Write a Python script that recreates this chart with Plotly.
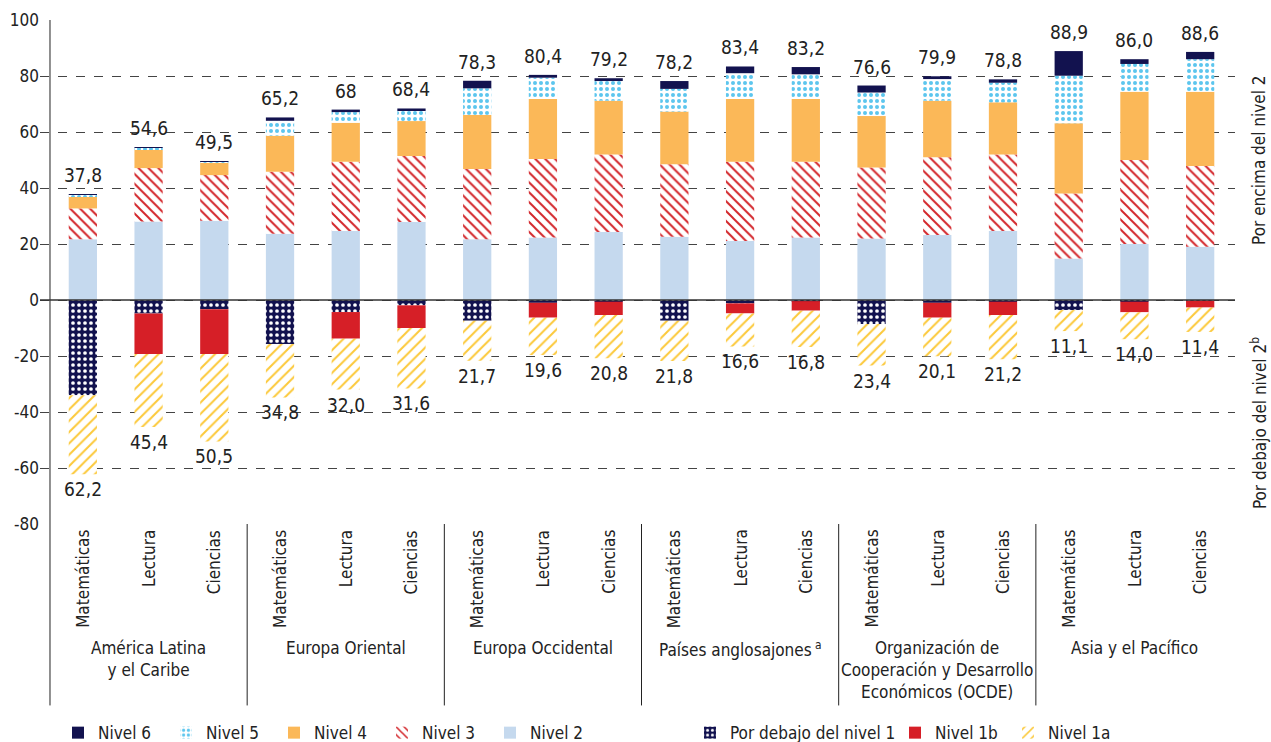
import plotly.graph_objects as go

# PISA performance distribution by region and subject (% of students)
groups = [
    "América Latina<br>y el Caribe",
    "Europa Oriental",
    "Europa Occidental",
    "Países anglosajones<sup> a</sup>",
    "Organización de<br>Cooperación y Desarrollo<br>Económicos (OCDE)",
    "Asia y el Pacífico",
]
subjects = ["Matemáticas", "Lectura", "Ciencias"]

# Levels at or above level 2 (stacked upward)
nivel2 = [21.7, 28.0, 28.3, 23.7, 24.6, 27.9, 21.7, 22.3, 24.3, 22.6, 21.1, 22.3, 22.0, 23.2, 24.6, 14.8, 20.0, 19.0]
nivel3 = [11.0, 19.1, 16.3, 22.1, 24.8, 23.5, 25.1, 28.1, 27.7, 25.9, 28.3, 27.1, 25.3, 27.8, 27.4, 23.2, 30.0, 28.9]
nivel4 = [4.2, 6.5, 4.5, 12.9, 13.9, 12.5, 19.3, 21.4, 19.2, 18.8, 22.4, 22.4, 18.4, 20.2, 18.6, 25.1, 24.4, 26.5]
nivel5 = [0.7, 0.7, 0.3, 5.3, 3.8, 3.8, 9.5, 7.6, 7.0, 8.1, 9.2, 8.8, 8.4, 7.7, 7.0, 17.0, 9.9, 11.6]
nivel6 = [0.2, 0.3, 0.1, 1.2, 0.9, 0.7, 2.7, 1.0, 1.0, 2.8, 2.4, 2.6, 2.5, 1.0, 1.2, 8.8, 1.7, 2.6]

# Levels below level 2 (stacked downward)
debajo1 = [34.0, 4.8, 3.3, 15.7, 4.3, 1.9, 7.4, 1.0, 0.6, 7.4, 1.2, 0.4, 8.6, 1.0, 0.6, 3.6, 0.6, 0.2]
nivel1b = [None, 14.5, 16.0, None, 9.5, 8.1, None, 5.3, 4.8, None, 3.6, 3.4, None, 5.3, 4.8, None, 3.8, 2.5]
nivel1a = [28.2, 26.1, 31.2, 19.1, 18.2, 21.6, 14.3, 13.3, 15.4, 14.4, 11.8, 13.0, 14.8, 13.8, 15.8, 7.5, 9.6, 8.7]

top_labels = ["37,8", "54,6", "49,5", "65,2", "68", "68,4", "78,3", "80,4", "79,2",
              "78,2", "83,4", "83,2", "76,6", "79,9", "78,8", "88,9", "86,0", "88,6"]
bottom_labels = ["62,2", "45,4", "50,5", "34,8", "32,0", "31,6", "21,7", "19,6", "20,8",
                 "21,8", "16,6", "16,8", "23,4", "20,1", "21,2", "11,1", "14,0", "11,4"]

y_ticks = [-80, -60, -40, -20, 0, 20, 40, 60, 80, 100]
y_tick_text = ["-80", "-60", "-40", "-20", "0", "20", "40", "60", "80", "100"]

FONT = "Liberation Sans Narrow, DejaVu Sans Condensed, Roboto, sans-serif"
TXT = "#222222"

n = len(nivel2)
xs = list(range(n))
neg = lambda v: [None if a is None else -a for a in v]

fig = go.Figure()

def add(name, vals, color, rank, legend, shape="", fg=None, bg=None, size=8, solidity=0.3):
    pattern = dict(shape=shape)
    if shape:
        pattern.update(fgcolor=fg, bgcolor=bg, fillmode="replace", size=size, solidity=solidity)
    fig.add_trace(go.Bar(
        x=xs, y=vals, name=name, width=0.43, legendrank=rank, legend=legend,
        marker=dict(color=color, line=dict(width=0), pattern=pattern),
        hoverinfo="skip",
    ))

add("Nivel 2", nivel2, "#c5d9ee", 5, "legend")
add("Nivel 3", nivel3, "#d3262b", 4, "legend", "\\", "#d3262b", "white", 7, 0.28)
add("Nivel 4", nivel4, "#fbb858", 3, "legend")
add("Nivel 5", nivel5, "#5cc6ee", 2, "legend", ".", "#5cc6ee", "white", 6, 0.35)
add("Nivel 6", nivel6, "#12124f", 1, "legend")
add("Por debajo del nivel 1", neg(debajo1), "#12124f", 6, "legend2", ".", "white", "#12124f", 6, 0.3)
add("Nivel 1b", neg(nivel1b), "#d61f27", 7, "legend3")
add("Nivel 1a", neg(nivel1a), "#fcc93a", 8, "legend4", "/", "#fcc93a", "white", 8, 0.25)

annotations = []
for i in range(n):
    up = nivel2[i] + nivel3[i] + nivel4[i] + nivel5[i] + nivel6[i]
    down = debajo1[i] + (nivel1b[i] or 0) + nivel1a[i]
    annotations.append(dict(x=i, y=up, text=top_labels[i], showarrow=False,
                            yanchor="bottom", yshift=6,
                            font=dict(size=19, color=TXT, family=FONT)))
    annotations.append(dict(x=i, y=-down, text=bottom_labels[i], showarrow=False,
                            yanchor="top", yshift=-2,
                            font=dict(size=19, color=TXT, family=FONT)))
    annotations.append(dict(x=i, y=-80, text=subjects[i % 3], showarrow=False,
                            textangle=-90, yanchor="top", yshift=-4,
                            font=dict(size=17, color=TXT, family=FONT)))

for g, name in enumerate(groups):
    annotations.append(dict(x=3 * g + 1, y=-0.222, yref="paper", text=name, showarrow=False,
                            yanchor="top", font=dict(size=17, color=TXT, family=FONT)))

annotations.append(dict(x=1.02, xref="paper", y=50, text="Por encima del nivel 2", showarrow=False,
                        textangle=-90, xanchor="center",
                        font=dict(size=17, color=TXT, family=FONT)))
annotations.append(dict(x=1.02, xref="paper", y=-44, text="Por debajo del nivel 2<sup>b</sup>",
                        showarrow=False, textangle=-90, xanchor="center",
                        font=dict(size=17, color=TXT, family=FONT)))

shapes = []
# axis line and group separators running down through the category labels
for g in range(len(groups)):
    x0 = 3 * g - 0.5
    y_top = 100 if g == 0 else -80
    shapes.append(dict(type="line", xref="x", yref="y", x0=x0, x1=x0, y0=y_top, y1=-80,
                       line=dict(color="#222222", width=1)))
    shapes.append(dict(type="line", xref="x", yref="paper", x0=x0, x1=x0, y0=0, y1=-0.36,
                       line=dict(color="#222222", width=1)))
# zero baseline
shapes.append(dict(type="line", xref="paper", yref="y", x0=0, x1=1, y0=0, y1=0,
                   line=dict(color="#333333", width=1.5)))

legend_font = dict(size=17, color=TXT, family=FONT)
legend_common = dict(orientation="h", xref="container", yref="container", y=0.012,
                     xanchor="left", yanchor="middle", font=legend_font, itemwidth=30,
                     bgcolor="rgba(0,0,0,0)")

fig.update_layout(
    barmode="relative",
    width=1271, height=742,
    margin=dict(l=40, r=36, t=20, b=218, autoexpand=False),
    paper_bgcolor="white", plot_bgcolor="white",
    font=dict(family=FONT, color=TXT, size=17),
    xaxis=dict(range=[-0.652, 17.53], showticklabels=False, showgrid=False,
               zeroline=False, showline=False, ticks=""),
    yaxis=dict(range=[-80, 100], tickvals=y_ticks, ticktext=y_tick_text,
               showgrid=True, gridcolor="#444444", griddash="dash", gridwidth=1,
               zeroline=False, showline=False, ticks="",
               tickfont=dict(size=17, color=TXT, family=FONT)),
    legend=dict(legend_common, x=58 / 1271, entrywidth=63, traceorder="normal"),
    legend2=dict(legend_common, x=690 / 1271),
    legend3=dict(legend_common, x=895 / 1271),
    legend4=dict(legend_common, x=1008 / 1271),
    annotations=annotations,
    shapes=shapes,
    bargap=0.5,
)

fig.write_html("out.html")
